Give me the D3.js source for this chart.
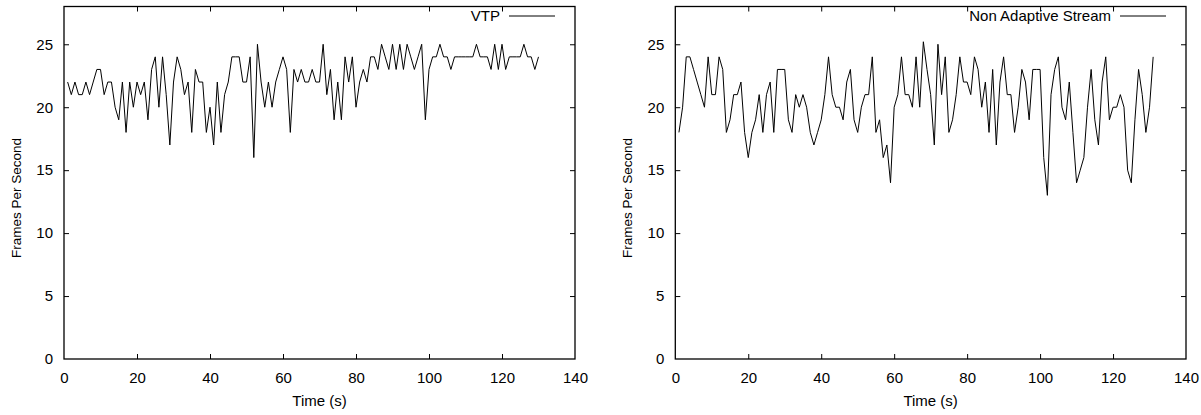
<!DOCTYPE html>
<html>
<head>
<meta charset="utf-8">
<script src="https://cdn.jsdelivr.net/npm/d3@7"></script>
<style>
  html, body { margin: 0; padding: 0; background: #fff; }
  svg { display: block; }
  text { font-family: "Liberation Sans", Arial, Helvetica, sans-serif; fill: #000; }
</style>
</head>
<body>
<svg id="chart" width="1201" height="415"></svg>
<script>
// Frames per second, one sample per second of playback
const vtpFps = [
  22, 21, 22, 21, 21, 22, 21, 22, 23, 23,
  21, 22, 22, 20, 19, 22, 18, 22, 20, 22,
  21, 22, 19, 23, 24, 20, 24, 21, 17, 22,
  24, 23, 21, 22, 18, 23, 22, 22, 18, 20,
  17, 22, 18, 21, 22, 24, 24, 24, 22, 22,
  24, 16, 25, 22, 20, 22, 20, 22, 23, 24,
  23, 18, 23, 22, 23, 22, 22, 23, 22, 22,
  25, 21, 23, 19, 22, 19, 24, 22, 24, 20,
  22, 23, 22, 24, 24, 23, 25, 24, 23, 25,
  23, 25, 23, 25, 24, 23, 24, 25, 19, 23,
  24, 24, 25, 24, 24, 23, 24, 24, 24, 24,
  24, 24, 25, 24, 24, 24, 23, 25, 23, 25,
  23, 24, 24, 24, 24, 25, 24, 24, 23, 24
];

const nonAdaptiveFps = [
  18, 20, 24, 24, 23, 22, 21, 20, 24, 21,
  21, 24, 23, 18, 19, 21, 21, 22, 18, 16,
  18, 19, 21, 18, 21, 22, 18, 23, 23, 23,
  19, 18, 21, 20, 21, 20, 18, 17, 18, 19,
  21, 24, 21, 20, 20, 19, 22, 23, 19, 18,
  20, 21, 21, 24, 18, 19, 16, 17, 14, 20,
  21, 24, 21, 21, 20, 24, 20, 25.2, 23, 21,
  17, 25, 21, 24, 18, 19, 21, 24, 22, 22,
  21, 24, 23, 20, 22, 18, 23, 17, 22, 24,
  21, 21, 18, 20, 23, 22, 19, 23, 23, 23,
  16, 13, 21, 23, 24, 20, 19, 22, 18, 14,
  15, 16, 20, 23, 19, 17, 22, 24, 19, 20,
  20, 21, 20, 15, 14, 19, 23, 21, 18, 20,
  24
];

const seriesNames = ["VTP", "Non Adaptive Stream"];
const xTicks = [0, 20, 40, 60, 80, 100, 120, 140];
const yTicks = [0, 5, 10, 15, 20, 25];
const xTitle = "Time (s)";
const yTitle = "Frames Per Second";

const svg = d3.select("#chart");

const panels = [
  { name: seriesNames[0], values: vtpFps, left: 64, right: 575 },
  { name: seriesNames[1], values: nonAdaptiveFps, left: 675.3, right: 1186 }
];

const plotTop = 6.5, plotBottom = 359;
const fontSize = 15;

panels.forEach(p => {
  const x = d3.scaleLinear().domain([0, 140]).range([p.left, p.right]);
  const y = d3.scaleLinear().domain([0, 28]).range([plotBottom, plotTop]);
  const g = svg.append("g");

  // tick marks on all four sides, pointing inward
  const axB = d3.axisBottom(x).tickValues(xTicks).tickFormat(d3.format("d"))
    .tickSizeInner(-5).tickSizeOuter(0).tickPadding(13);
  const axT = d3.axisTop(x).tickValues(xTicks.slice(1, -1)).tickFormat("")
    .tickSizeInner(-5).tickSizeOuter(0);
  const axL = d3.axisLeft(y).tickValues(yTicks).tickFormat(d3.format("d"))
    .tickSizeInner(-5).tickSizeOuter(0).tickPadding(11);
  const axR = d3.axisRight(y).tickValues(yTicks.slice(1)).tickFormat("")
    .tickSizeInner(-5).tickSizeOuter(0);

  const gb = g.append("g").attr("transform", `translate(0,${plotBottom})`).call(axB);
  const gt = g.append("g").attr("transform", `translate(0,${plotTop})`).call(axT);
  const gl = g.append("g").attr("transform", `translate(${p.left},0)`).call(axL);
  const gr = g.append("g").attr("transform", `translate(${p.right},0)`).call(axR);

  [gb, gt, gl, gr].forEach(a => {
    a.select(".domain").remove();
    a.selectAll(".tick line").attr("stroke", "#000").attr("stroke-width", 1);
    a.selectAll("text").attr("font-size", fontSize).attr("font-family", null).attr("fill", "#000");
  });
  gb.selectAll(".tick line").filter(d => d === 0 || d === 140).remove();
  gl.selectAll(".tick line").filter(d => d === 0).remove();

  // plot border
  g.append("rect")
    .attr("x", p.left).attr("y", plotTop)
    .attr("width", p.right - p.left).attr("height", plotBottom - plotTop)
    .attr("fill", "none").attr("stroke", "#000").attr("stroke-width", 1.3);

  // data line
  const line = d3.line()
    .x((d, i) => x(i + 1))
    .y(d => y(d));
  g.append("path")
    .datum(p.values)
    .attr("d", line)
    .attr("fill", "none")
    .attr("stroke", "#000")
    .attr("stroke-width", 1)
    .attr("stroke-linejoin", "miter");

  // legend
  g.append("text")
    .attr("x", p.right - 75).attr("y", 21)
    .attr("text-anchor", "end")
    .attr("font-size", fontSize)
    .text(p.name);
  g.append("line")
    .attr("x1", p.right - 66).attr("x2", p.right - 20)
    .attr("y1", 16).attr("y2", 16)
    .attr("stroke", "#000").attr("stroke-width", 1);

  // axis titles
  g.append("text")
    .attr("x", (p.left + p.right) / 2).attr("y", 406)
    .attr("text-anchor", "middle")
    .attr("font-size", fontSize)
    .text(xTitle);
  g.append("text")
    .attr("transform", `translate(${p.left - 43},198) rotate(-90)`)
    .attr("text-anchor", "middle")
    .attr("font-size", 13.5)
    .text(yTitle);
});
</script>
</body>
</html>
